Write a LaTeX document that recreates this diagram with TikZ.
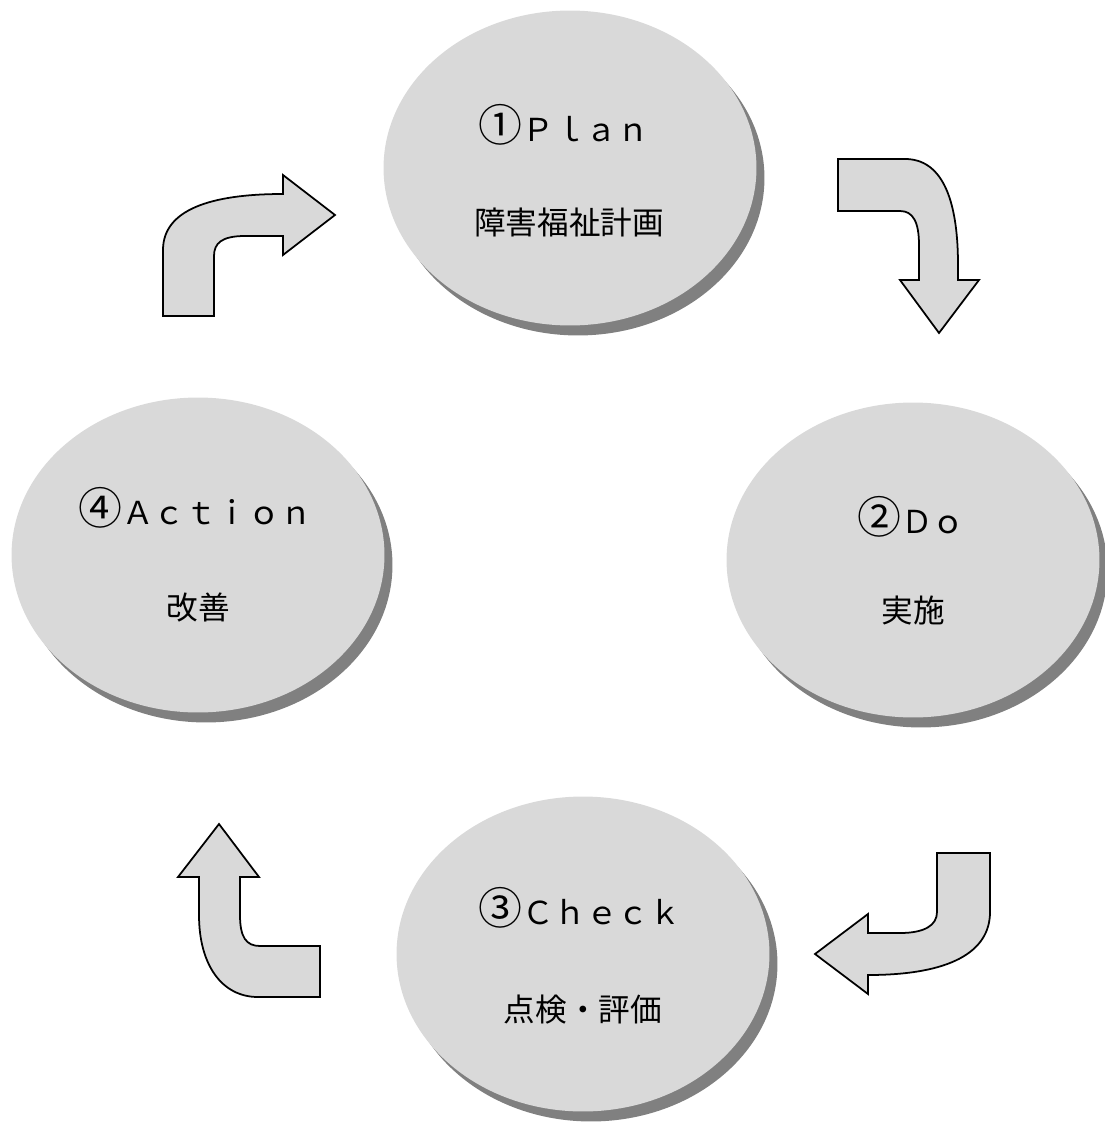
\documentclass[tikz,border=0pt]{standalone}
\usepackage{fontspec}
\setmainfont{Noto Sans CJK JP}
\usetikzlibrary{shapes.geometric,shadows}
\definecolor{discgray}{HTML}{D9D9D9}
\definecolor{shadegray}{HTML}{808080}
\newcommand{\stagenum}[1]{{\fontsize{25}{22}\selectfont #1}}
\tikzset{
    stage/.style={ellipse, fill=discgray, inner sep=0pt,
        minimum width=7.46cm, minimum height=6.3cm,
        drop shadow={shadow xshift=0.16cm, shadow yshift=-0.2cm, fill=shadegray, opacity=1}},
    stagetext/.style={font=\fontsize{18}{22}\selectfont},
    turnarrow/.style={draw=black, fill=discgray, line width=1pt, line join=miter}
}
\begin{document}
\begin{tikzpicture}[x=0.02cm, y=-0.02cm]
        \useasboundingbox
            (0,0) rectangle (1105,1122);
        % the four stages
        \node[stage] (plan) at (570,168) {};
        \node[stage] (do) at (913,560) {};
        \node[stage] (check) at (583,954) {};
        \node[stage] (action) at (198,555) {};
        \node[stagetext] (plantitle) at (564,125) {\stagenum{①}Ｐｌａｎ};
        \node[stagetext] (plantext) at (569,222) {障害福祉計画};
        \node[stagetext] (dotitle) at (911,517) {\stagenum{②}Ｄｏ};
        \node[stagetext] (dotext) at (913,610) {実施};
        \node[stagetext] (checktitle) at (580,908) {\stagenum{③}Ｃｈｅｃｋ};
        \node[stagetext] (checktext) at (583,1010) {点検・評価};
        \node[stagetext] (actiontitle) at (195,508) {\stagenum{④}Ａｃｔｉｏｎ};
        \node[stagetext] (actiontext) at (198,608) {改善};
        % bent arrows
        \draw[turnarrow]
            (163,316) -- (163,250) .. controls (163,210) and (210,194) .. (283,194)
            -- (283,175) -- (335,215) -- (283,255) -- (283,236) -- (245,236)
            .. controls (222,236) and (214,243) .. (214,256) -- (214,316) -- cycle;
        \draw[turnarrow]
            (838,159) -- (905,159) .. controls (940,159) and (958,195) .. (958,265)
            -- (958,280) -- (979,280) -- (939,333) -- (900,280) -- (919,280) -- (919,245)
            .. controls (919,222) and (913,211) .. (900,211) -- (838,211) -- cycle;
        \draw[turnarrow]
            (937,853) -- (990,853) -- (990,912) .. controls (990,952) and (950,975) .. (868,975)
            -- (868,994) -- (815,954) -- (868,914) -- (868,933) -- (900,933)
            .. controls (925,933) and (937,925) .. (937,912) -- cycle;
        \draw[turnarrow]
            (219,824) -- (259,877) -- (240,877) -- (240,915)
            .. controls (240,937) and (246,946) .. (260,946) -- (320,946) -- (320,997)
            -- (258,997) .. controls (222,997) and (199,965) .. (199,915) -- (199,877)
            -- (178,877) -- cycle;
    \end{tikzpicture}
\end{document}
